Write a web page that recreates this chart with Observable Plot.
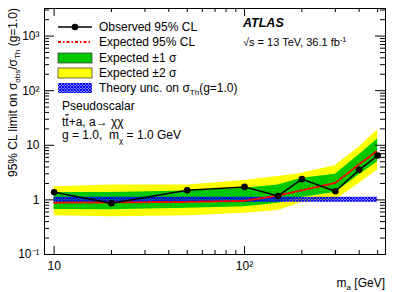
<!DOCTYPE html>
<html><head><meta charset="utf-8">
<script src="https://cdn.jsdelivr.net/npm/d3@7"></script>
<script src="https://cdn.jsdelivr.net/npm/@observablehq/plot@0.6"></script>
<style>body{margin:0;background:#fff} #chart svg{display:block}</style>
</head><body><div id="chart"></div>
<script>
const masses   = [10, 20, 50, 100, 150, 200, 300, 400, 500];
const observed = [1.38, 0.87, 1.5, 1.73, 1.18, 2.4, 1.44, 3.55, 6.5];
const expected = [0.89, 0.9, 0.92, 0.96, 1.2, 1.5, 2.05, 4.5, 8.0];
const band1Lo  = [0.67, 0.66, 0.70, 0.75, 0.87, 1.12, 1.36, 2.9, 5.0];
const band1Hi  = [1.36, 1.36, 1.46, 1.64, 1.88, 2.5, 2.96, 6.7, 13];
const band2Lo  = [0.51, 0.49, 0.51, 0.57, 0.64, 0.9, 1.0, 2.0, 3.55];
const band2Hi  = [1.75, 1.88, 1.88, 2.26, 2.67, 3.08, 4.26, 9.2, 19.2];
const theoryLo = [0.91, 0.91, 0.91, 0.91, 0.91, 0.91, 0.91, 0.91, 0.91];
const theoryHi = [1.12, 1.12, 1.12, 1.12, 1.12, 1.12, 1.12, 1.12, 1.12];

const yMajor = [0.1, 1, 10, 100, 1000];
const yMajorLabels = ["10\u207B\u00B9", "1", "10", "10\u00B2", "10\u00B3"];
const xMajor = [10, 100];
const xMajorLabels = ["10", "10\u00B2"];

const legendLabels = ["Observed 95% CL", "Expected 95% CL", "Expected \u00B11 \u03C3", "Expected \u00B12 \u03C3", "Theory unc. on \u03C3"];

const yMinor = [];
for (const k of [-1, 0, 1, 2, 3]) for (let m = 2; m <= 9; m++) { const v = m * 10 ** k; if (v <= 3200) yMinor.push(v); }
const xMinor = [20, 30, 40, 50, 60, 70, 80, 90, 200, 300, 400, 500];

const rows = masses.map((m, i) => ({m, obs: observed[i], exp: expected[i], b1lo: band1Lo[i], b1hi: band1Hi[i], b2lo: band2Lo[i], b2hi: band2Hi[i], thlo: theoryLo[i], thhi: theoryHi[i]}));

const W = 407, H = 292, mL = 44, mR = 22, mT = 8, mB = 38;
const FW = W - mL - mR, FH = H - mT - mB;

const chart = Plot.plot({
  width: W, height: H, marginLeft: mL, marginRight: mR, marginTop: mT, marginBottom: mB,
  style: {fontFamily: "'Liberation Sans', Arial, sans-serif", fontSize: "12px", background: "white", color: "black", overflow: "visible"},
  x: {type: "log", domain: [8.9, 550]},
  y: {type: "log", domain: [0.1, 3200]},
  marks: [
    Plot.areaY(rows, {x: "m", y1: "b2lo", y2: "b2hi", fill: "#ffff00"}),
    Plot.areaY(rows, {x: "m", y1: "b1lo", y2: "b1hi", fill: "#00c800"}),
    Plot.areaY(rows, {x: "m", y1: "thlo", y2: "thhi", fill: "url(#thhatch)"}),
    Plot.lineY(rows, {x: "m", y: "exp", stroke: "#ff0000", strokeWidth: 2, strokeDasharray: "3,2,1.5,2"}),
    Plot.lineY(rows, {x: "m", y: "obs", stroke: "black", strokeWidth: 1.5}),
    Plot.dot(rows, {x: "m", y: "obs", r: 3.3, fill: "black"}),
    // inward ticks: left / right
    Plot.ruleY(yMajor, {y: d => d, insetRight: FW - 10, stroke: "black"}),
    Plot.ruleY(yMinor, {y: d => d, insetRight: FW - 5, stroke: "black"}),
    Plot.ruleY(yMajor, {y: d => d, insetLeft: FW - 10, stroke: "black"}),
    Plot.ruleY(yMinor, {y: d => d, insetLeft: FW - 5, stroke: "black"}),
    // inward ticks: bottom / top
    Plot.ruleX(xMajor, {x: d => d, insetTop: FH - 8, stroke: "black"}),
    Plot.ruleX(xMinor, {x: d => d, insetTop: FH - 4, stroke: "black"}),
    Plot.ruleX(xMajor, {x: d => d, insetBottom: FH - 8, stroke: "black"}),
    Plot.ruleX(xMinor, {x: d => d, insetBottom: FH - 4, stroke: "black"}),
    Plot.frame({stroke: "black"}),
    Plot.axisY({ticks: yMajor, tickFormat: d => yMajorLabels[yMajor.indexOf(d)], tickSize: 0, tickPadding: 5, label: null, fontSize: 12}),
    Plot.axisX({ticks: xMajor, tickFormat: d => xMajorLabels[xMajor.indexOf(d)], tickSize: 0, tickPadding: 7, label: null, fontSize: 12})
  ]
});
document.getElementById("chart").appendChild(chart);

const svg = d3.select(chart);
const defs = svg.insert("defs", ":first-child");
const pat = defs.append("pattern").attr("id", "thhatch").attr("patternUnits", "userSpaceOnUse").attr("width", 3).attr("height", 3);
pat.append("path").attr("d", "M0,0L3,3M3,0L0,3M-1,2L1,4M2,-1L4,1M-1,1L1,-1M2,4L4,2").attr("stroke", "#0000ff").attr("stroke-width", 1.2).attr("fill", "none");

const g = svg.append("g").attr("font-family", "'Liberation Sans', Arial, sans-serif").attr("fill", "black").attr("text-anchor", "start");

// Legend
const lx0 = 58, lx1 = 92, tx = 99, rowsY = [27, 42, 58, 73, 88];
g.append("line").attr("x1", lx0).attr("x2", lx1).attr("y1", rowsY[0]).attr("y2", rowsY[0]).attr("stroke", "black").attr("stroke-width", 1.5);
g.append("circle").attr("cx", (lx0 + lx1) / 2).attr("cy", rowsY[0]).attr("r", 3.3).attr("fill", "black");
g.append("line").attr("x1", lx0).attr("x2", lx1).attr("y1", rowsY[1]).attr("y2", rowsY[1]).attr("stroke", "#ff0000").attr("stroke-width", 2).attr("stroke-dasharray", "3,2,1.5,2");
g.append("rect").attr("x", lx0).attr("y", rowsY[2] - 5).attr("width", lx1 - lx0).attr("height", 10).attr("fill", "#00c800").attr("stroke", "#444").attr("stroke-width", 0.8);
g.append("rect").attr("x", lx0).attr("y", rowsY[3] - 5).attr("width", lx1 - lx0).attr("height", 10).attr("fill", "#ffff00").attr("stroke", "#444").attr("stroke-width", 0.8);
g.append("rect").attr("x", lx0).attr("y", rowsY[4] - 5).attr("width", lx1 - lx0).attr("height", 10).attr("fill", "url(#thhatch)");
legendLabels.forEach((t, i) => {
  const el = g.append("text").attr("x", tx).attr("y", rowsY[i]).attr("dy", "0.35em").attr("font-size", 12).text(t);
  if (i === 4) {
    el.append("tspan").attr("font-size", 8).attr("dy", 3).text("Th");
    el.append("tspan").attr("dy", -3).text("(g=1.0)");
  }
});

// Annotation
g.append("text").attr("x", 62).attr("y", 106).attr("dy", "0.35em").attr("font-size", 12).text("Pseudoscalar");
const t2 = g.append("text").attr("x", 62).attr("y", 122).attr("dy", "0.35em").attr("font-size", 12);
t2.append("tspan").text("t");
t2.append("tspan").attr("text-decoration", "overline").text("t");
t2.append("tspan").text("+a, a\u2192 \u03C7\u03C7");
const t3 = g.append("text").attr("x", 62).attr("y", 135).attr("dy", "0.35em").attr("font-size", 12).attr("xml:space", "preserve");
t3.append("tspan").text("g = 1.0,  m");
t3.append("tspan").attr("font-size", 8).attr("dy", 4).text("\u03C7");
t3.append("tspan").attr("dy", -4).text(" = 1.0 GeV");

g.append("text").attr("x", 243).attr("y", 23).attr("dy", "0.35em").attr("font-size", 12.5).attr("font-weight", "bold").attr("font-style", "italic").text("ATLAS");
const t4 = g.append("text").attr("x", 243).attr("y", 42).attr("dy", "0.35em").attr("font-size", 11);
t4.append("tspan").text("\u221As = 13 TeV, 36.1 fb");
t4.append("tspan").attr("font-size", 7.5).attr("dy", -4).text("-1");

// Axis titles
const yt = g.append("text").attr("transform", "translate(17,8) rotate(-90)").attr("text-anchor", "end").attr("font-size", 12);
yt.append("tspan").text("95% CL limit on \u03C3");
yt.append("tspan").attr("font-size", 8).attr("dy", 3).text("obs");
yt.append("tspan").attr("dy", -3).text("/\u03C3");
yt.append("tspan").attr("font-size", 8).attr("dy", 3).text("Th");
yt.append("tspan").attr("dy", -3).text(" (g=1.0)");

const xt = g.append("text").attr("x", 385).attr("y", 287).attr("text-anchor", "end").attr("font-size", 12);
xt.append("tspan").text("m");
xt.append("tspan").attr("font-size", 8).attr("dy", 3).text("a");
xt.append("tspan").attr("dy", -3).text(" [GeV]");
</script>
</body></html>
